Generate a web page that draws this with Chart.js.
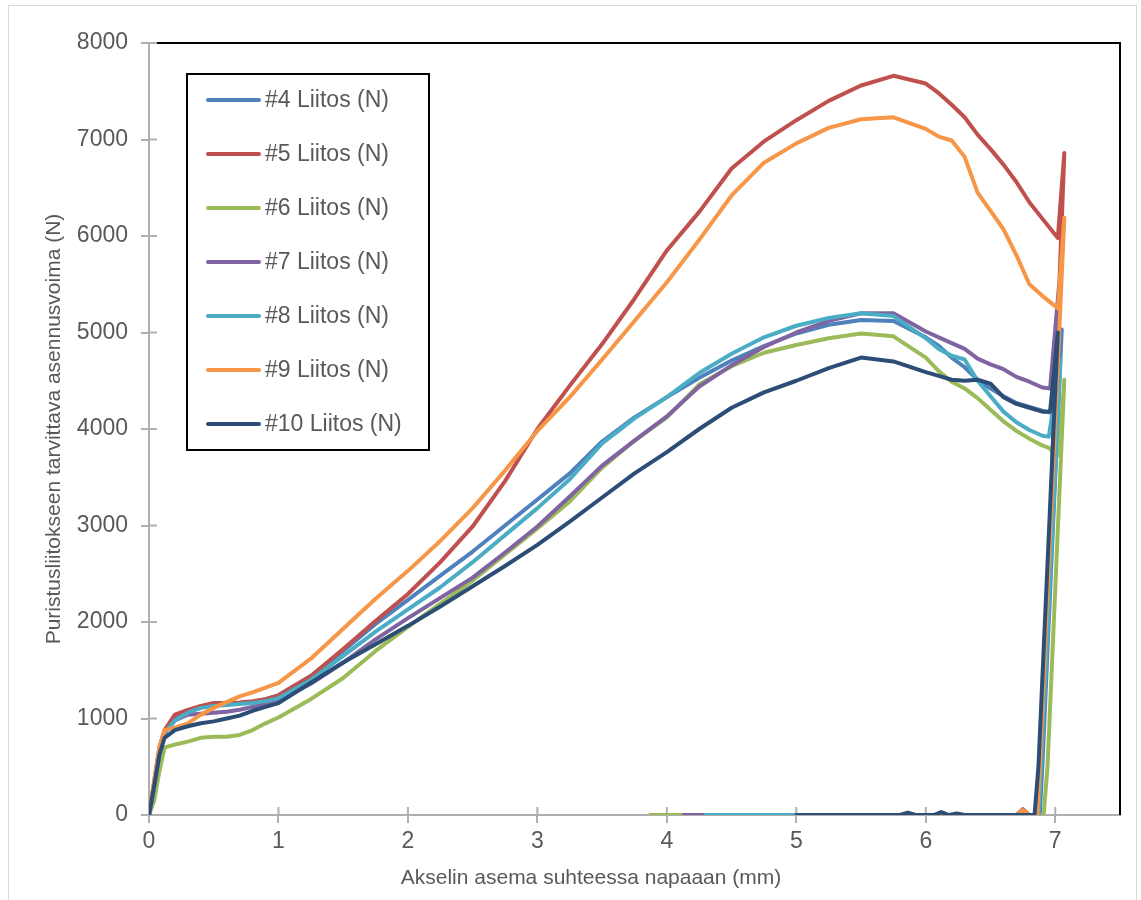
<!DOCTYPE html>
<html>
<head>
<meta charset="utf-8">
<script src="https://cdn.jsdelivr.net/npm/chart.js@4.4.1/dist/chart.umd.min.js"></script>
<style>
  html, body { margin: 0; padding: 0; background: #fff; }
</style>
</head>
<body>
<canvas id="myChartForce" width="1141" height="900"></canvas>
<script>
// axel position (mm), shared by the rising/falling part of every run
var pos = [0, 0.04, 0.08, 0.12, 0.2, 0.3, 0.4, 0.5, 0.6, 0.7, 0.8, 0.9, 1, 1.25, 1.5, 1.75, 2, 2.25, 2.5, 2.75,
           3, 3.25, 3.5, 3.75, 4, 4.25, 4.5, 4.75, 5, 5.25, 5.5, 5.75, 6, 6.1, 6.2, 6.3, 6.4, 6.5, 6.6, 6.7, 6.8, 6.9];

var liitos4  = [0, 300, 650, 850, 1000, 1080, 1120, 1140, 1150, 1160, 1170, 1200, 1240, 1440, 1700, 1980, 2230, 2480, 2730, 3000,
                3270, 3540, 3870, 4120, 4330, 4530, 4710, 4860, 4990, 5080, 5130, 5120, 4950, 4860, 4740, 4640, 4510, 4420, 4340, 4270, 4230, 4190];
var liitos5  = [0, 350, 700, 880, 1040, 1090, 1130, 1160, 1160, 1165, 1180, 1200, 1240, 1440, 1720, 2010, 2290, 2620, 2990, 3460,
                4000, 4450, 4880, 5350, 5850, 6250, 6700, 6980, 7200, 7400, 7560, 7660, 7580, 7480, 7360, 7230, 7050, 6900, 6740, 6560, 6350, 6180];
var liitos6  = [0, 150, 450, 700, 730, 760, 800, 810, 810, 830, 880, 950, 1010, 1200, 1420, 1700, 1950, 2190, 2430, 2700,
                2970, 3250, 3600, 3880, 4120, 4460, 4650, 4790, 4870, 4940, 4990, 4960, 4740, 4600, 4490, 4420, 4320, 4200, 4080, 3980, 3900, 3830];
var liitos7  = [0, 300, 650, 850, 980, 1040, 1050, 1060, 1070, 1090, 1120, 1150, 1190, 1360, 1580, 1820, 2040, 2250, 2460, 2720,
                2990, 3300, 3620, 3880, 4130, 4440, 4660, 4850, 5000, 5120, 5200, 5200, 5010, 4950, 4890, 4830, 4730, 4670, 4620, 4540, 4490, 4430];
var liitos8  = [0, 300, 650, 850, 980, 1060, 1110, 1130, 1140, 1150, 1160, 1180, 1210, 1400, 1650, 1900, 2130, 2360, 2620, 2900,
                3180, 3480, 3850, 4110, 4330, 4580, 4780, 4950, 5070, 5150, 5200, 5170, 4940, 4830, 4760, 4720, 4500, 4340, 4180, 4070, 3990, 3930];
var liitos9  = [0, 350, 700, 880, 905, 950, 1040, 1110, 1170, 1230, 1270, 1320, 1370, 1620, 1930, 2240, 2530, 2840, 3180, 3570,
                3980, 4330, 4720, 5120, 5520, 5960, 6420, 6760, 6960, 7120, 7210, 7230, 7110, 7030, 6990, 6820, 6450, 6260, 6070, 5800, 5500, 5380];
var liitos10 = [0, 300, 620, 800, 880, 920, 950, 970, 1000, 1030, 1080, 1120, 1160, 1370, 1580, 1770, 1960, 2160, 2370, 2580,
                2800, 3040, 3290, 3540, 3760, 4000, 4220, 4380, 4500, 4630, 4740, 4700, 4590, 4550, 4510, 4500, 4510, 4470, 4330, 4260, 4220, 4180];

// end of each run: last point, spike, release and the return at zero force
var end4x  = [6.96, 7.05, 6.9, 6.88, 6.6, 5.2];
var end4y  = [4170, 5030, 500, 0, 0, 0];
var end5x  = [7.02, 7.07, 6.89, 6.86, 6.8, 6.75, 6.7, 5.5];
var end5y  = [5980, 6860, 500, 0, 0, 60, 0, 0];
var end6x  = [6.96, 7.0, 7.03, 7.07, 6.94, 6.91, 3.87];
var end6y  = [3800, 3700, 3750, 4510, 500, 0, 0];
var end7x  = [6.96, 7.03, 6.89, 6.87, 4.13];
var end7y  = [4420, 5500, 500, 0, 0];
var end8x  = [6.95, 7.04, 6.89, 6.87, 4.3];
var end8y  = [3920, 4720, 500, 0, 0];
var end9x  = [7.02, 7.07, 6.88, 6.86, 6.8, 6.75, 6.7, 5.7];
var end9y  = [5250, 6190, 500, 0, 0, 50, 0, 0];
var end10x = [6.96, 7.02, 6.87, 6.84, 6.3, 6.24, 6.18, 6.12, 6.06, 5.92, 5.86, 5.8, 5.0];
var end10y = [4180, 5000, 500, 0, 0, 15, 0, 30, 0, 0, 25, 0, 0];

var names = ['#4 Liitos (N)', '#5 Liitos (N)', '#6 Liitos (N)', '#7 Liitos (N)', '#8 Liitos (N)', '#9 Liitos (N)', '#10 Liitos (N)'];
var colors = ['#4F81BD', '#C0504D', '#9BBB59', '#8064A2', '#4BACC6', '#F79646', '#2C4D75'];
var runs = [liitos4, liitos5, liitos6, liitos7, liitos8, liitos9, liitos10];
var endsX = [end4x, end5x, end6x, end7x, end8x, end9x, end10x];
var endsY = [end4y, end5y, end6y, end7y, end8y, end9y, end10y];

var xTitle = 'Akselin asema suhteessa napaaan (mm)';
var yTitle = 'Puristusliitokseen tarvittava asennusvoima (N)';

var textGray = '#595959';
var axisGray = '#B0B0B0';
var fontName = '"Liberation Sans", Arial, sans-serif';

function points(ys, ex, ey) {
    var d = pos.map(function (x, i) { return {x: x, y: ys[i]}; });
    ex.forEach(function (x, i) { d.push({x: x, y: ey[i]}); });
    return d;
}

var datasets = runs.map(function (r, i) {
    return {
        label: names[i],
        data: points(r, endsX[i], endsY[i]),
        borderColor: colors[i],
        backgroundColor: colors[i],
        borderWidth: 4,
        pointRadius: 0,
        tension: 0,
        borderJoinStyle: 'round',
        borderCapStyle: 'round',
        order: runs.length - i
    };
});

var extras = {
    id: 'extras',
    beforeDraw: function (chart) {
        var c = chart.ctx;
        c.save();
        c.fillStyle = '#fff';
        c.fillRect(0, 0, chart.width, chart.height);
        c.strokeStyle = '#D9D9D9';
        c.lineWidth = 1;
        c.strokeRect(8.5, 5.5, 1128, 900);
        c.restore();
    },
    beforeDatasetsDraw: function (chart) {
        var c = chart.ctx, a = chart.chartArea, sx = chart.scales.x, sy = chart.scales.y;
        c.save();
        c.strokeStyle = '#000';
        c.lineWidth = 2;
        c.beginPath();
        c.moveTo(a.left, a.top);
        c.lineTo(a.right, a.top);
        c.lineTo(a.right, a.bottom);
        c.stroke();
        // inner half of the crossing tick marks
        c.strokeStyle = axisGray;
        c.lineWidth = 2;
        c.beginPath();
        sx.ticks.forEach(function (t) {
            var p = sx.getPixelForValue(t.value);
            c.moveTo(p, a.bottom);
            c.lineTo(p, a.bottom - 8);
        });
        sy.ticks.forEach(function (t) {
            var p = sy.getPixelForValue(t.value);
            c.moveTo(a.left, p);
            c.lineTo(a.left + 8, p);
        });
        c.stroke();
        c.fillStyle = textGray;
        c.font = '21px ' + fontName;
        c.textAlign = 'center';
        c.textBaseline = 'middle';
        c.fillText(xTitle, 591, 878);
        c.restore();
    },
    afterDraw: function (chart) {
        var c = chart.ctx;
        c.save();
        c.fillStyle = '#fff';
        c.fillRect(187, 74, 242, 376);
        c.strokeStyle = '#000';
        c.lineWidth = 2;
        c.strokeRect(187, 74, 242, 376);
        c.font = '23px ' + fontName;
        c.textAlign = 'left';
        c.textBaseline = 'middle';
        chart.data.datasets.forEach(function (ds, i) {
            var y = 100 + i * 54;
            c.strokeStyle = ds.borderColor;
            c.lineWidth = 4;
            c.lineCap = 'round';
            c.beginPath();
            c.moveTo(208, y);
            c.lineTo(259, y);
            c.stroke();
            c.fillStyle = textGray;
            c.fillText(ds.label, 265, y + 1);
        });
        c.restore();
    }
};

var ctx = document.getElementById('myChartForce').getContext('2d');
var myChartForce = new Chart(ctx, {
    type: 'line',
    data: { datasets: datasets },
    options: {
        responsive: false,
        animation: false,
        layout: { padding: { top: 43, right: 21, left: 0, bottom: 0 } },
        plugins: {
            legend: { display: false },
            tooltip: { enabled: false }
        },
        scales: {
            x: {
                type: 'linear',
                min: 0,
                max: 7.5,
                afterFit: function (s) { s.height = 85; },
                afterBuildTicks: function (s) {
                    s.ticks = s.ticks.filter(function (t) { return Number.isInteger(t.value); });
                },
                grid: { drawOnChartArea: false, drawTicks: true, tickLength: 8, color: axisGray, lineWidth: 2 },
                border: { color: axisGray, width: 2 },
                ticks: {
                    stepSize: 1,
                    padding: 5,
                    color: textGray,
                    font: { family: fontName, size: 23 },
                    maxRotation: 0,
                    callback: function (v) { return String(v); }
                }
            },
            y: {
                min: 0,
                max: 8000,
                afterFit: function (s) { s.width = 149; },
                grid: { drawOnChartArea: false, drawTicks: true, tickLength: 8, color: axisGray, lineWidth: 2 },
                border: { color: axisGray, width: 2 },
                ticks: {
                    stepSize: 1000,
                    padding: 13,
                    color: textGray,
                    font: { family: fontName, size: 23 },
                    callback: function (v) { return String(v); }
                },
                title: {
                    display: true,
                    text: yTitle,
                    color: textGray,
                    font: { family: fontName, size: 21 },
                    padding: { top: 42, bottom: 0 }
                }
            }
        }
    },
    plugins: [extras]
});
</script>
</body>
</html>
